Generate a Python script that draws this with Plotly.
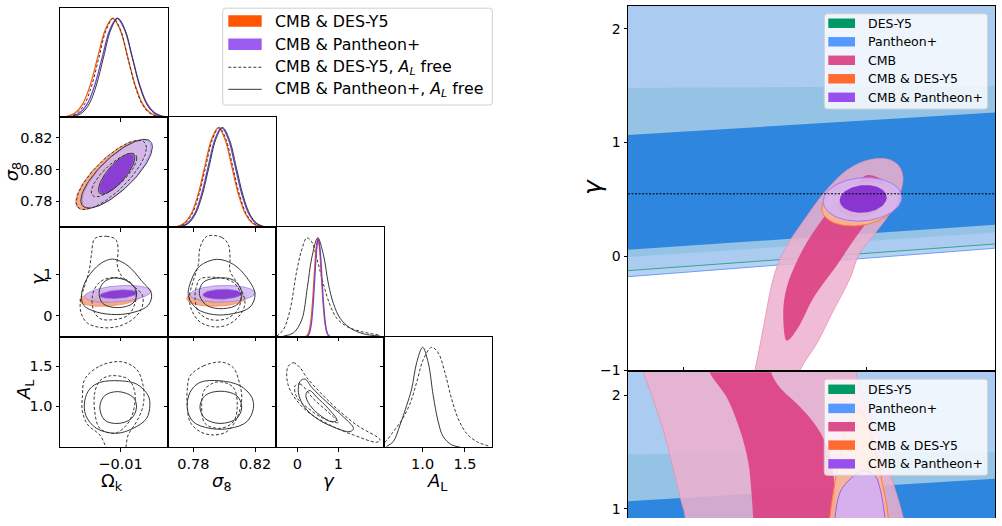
import numpy as np
import plotly.graph_objects as go

W, H = 1002, 526
FONT = "DejaVu Sans"

# ---------------- axis ranges & ticks ----------------
OMK_RANGE = [-0.0193, -0.0027]
S8_XRANGE = [0.7636, 0.8336]
S8_YRANGE = [0.7634, 0.8330]
GAM_XRANGE = [-0.52, 2.11]
GAM_YRANGE = [-0.50, 2.12]
AL_XRANGE = [0.543, 1.82]
AL_YRANGE = [0.496, 1.862]
PDF_RANGE = [0, 1.105]

OMK_TICKS, OMK_LABELS = [-0.01], ["\u22120.01"]
S8_XTICKS, S8_XLABELS = [0.78, 0.82], ["0.78", "0.82"]
S8_YTICKS, S8_YLABELS = [0.78, 0.80, 0.82], ["0.78", "0.80", "0.82"]
GAM_TICKS, GAM_LABELS = [0, 1], ["0", "1"]
AL_TICKS, AL_LABELS = [1.0, 1.5], ["1.0", "1.5"]

R_XRANGE = [0, 1]
R_TOP_YRANGE = [-1.0, 2.2]
R_BOT_YRANGE = [0.92, 2.2]
R_YTICKS_TOP, R_YLABELS_TOP = [-1, 0, 1, 2], ["\u22121", "0", "1", "2"]
R_YTICKS_BOT, R_YLABELS_BOT = [1, 2], ["1", "2"]
R_XTICKS = [0.15, 0.65]
GAMMA_GR = 0.55

# ---------------- 1D marginals ----------------
PDF_SYM = [0.002, 0.011, 0.044, 0.135, 0.325, 0.607, 0.882, 1.0, 0.882, 0.607, 0.325, 0.135, 0.044, 0.011, 0.002]
OMK_PDF_X_ORANGE = [-0.01925, -0.0181, -0.01695, -0.0158, -0.01465, -0.0135, -0.01235, -0.0112, -0.01005, -0.0089, -0.00775, -0.0066, -0.00545, -0.0043, -0.00315]
OMK_PDF_X_PURPLE = [-0.01855, -0.0174, -0.01625, -0.0151, -0.01395, -0.0128, -0.01165, -0.0105, -0.00935, -0.0082, -0.00705, -0.0059, -0.00475, -0.0036, -0.00245]
OMK_PDF_X_DASHED = [-0.0188, -0.0177, -0.0166, -0.0155, -0.0144, -0.0133, -0.0122, -0.0111, -0.0100, -0.0089, -0.0078, -0.0067, -0.0056, -0.0045, -0.0034]
OMK_PDF_X_SOLID = [-0.0181, -0.0170, -0.0159, -0.0148, -0.0137, -0.0126, -0.0115, -0.0104, -0.0093, -0.0082, -0.0071, -0.0060, -0.0049, -0.0038, -0.0027]

S8_PDF_X_ORANGE = [0.7654, 0.7698, 0.7742, 0.7786, 0.7830, 0.7874, 0.7918, 0.7962, 0.8006, 0.8050, 0.8094, 0.8138, 0.8182, 0.8226, 0.8270]
S8_PDF_X_DASHED = [0.7660, 0.7704, 0.7748, 0.7792, 0.7836, 0.7880, 0.7924, 0.7968, 0.8012, 0.8056, 0.8100, 0.8144, 0.8188, 0.8232, 0.8276]
S8_PDF_X_PURPLE = [0.7676, 0.7720, 0.7764, 0.7808, 0.7852, 0.7896, 0.7940, 0.7984, 0.8028, 0.8072, 0.8116, 0.8160, 0.8204, 0.8248, 0.8292]
S8_PDF_X_SOLID = [0.7682, 0.7726, 0.7770, 0.7814, 0.7858, 0.7902, 0.7946, 0.7990, 0.8034, 0.8078, 0.8122, 0.8166, 0.8210, 0.8254, 0.8298]

GAM_PDF_X_ORANGE = [0.189, 0.233, 0.277, 0.321, 0.365, 0.409, 0.453, 0.497, 0.541, 0.585, 0.629, 0.673, 0.717, 0.761, 0.805]
GAM_PDF_X_PURPLE = [0.2145, 0.257, 0.2995, 0.342, 0.3845, 0.427, 0.4695, 0.512, 0.5545, 0.597, 0.6395, 0.682, 0.7245, 0.767, 0.8095]
GAM_PDF_X_SOLID = [-0.34, -0.097, 0.106, 0.244, 0.35, 0.497, 0.635, 0.757, 0.879, 1.041, 1.285, 1.61, 2.017]
GAM_PDF_Y_SOLID = [0.007, 0.039, 0.171, 0.5, 0.796, 1.0, 0.829, 0.533, 0.336, 0.1875, 0.089, 0.03, 0.007]
GAM_PDF_X_DASHED = [-0.503, -0.34, -0.179, -0.016, 0.106, 0.228, 0.35, 0.472, 0.635, 0.797, 0.96, 1.204, 1.529, 2.017]
GAM_PDF_Y_DASHED = [0.007, 0.072, 0.27, 0.664, 0.878, 1.0, 0.96, 0.796, 0.533, 0.319, 0.1875, 0.105, 0.056, 0.016]

AL_PDF_X_SOLID = [0.575, 0.653, 0.732, 0.811, 0.87, 0.929, 1.0, 1.066, 1.125, 1.184, 1.243, 1.342, 1.44]
AL_PDF_Y_SOLID = [0.007, 0.056, 0.22, 0.418, 0.582, 0.845, 1.0, 0.845, 0.516, 0.253, 0.105, 0.023, 0.0]
AL_PDF_X_DASHED = [0.50, 0.555, 0.653, 0.752, 0.85, 0.929, 1.008, 1.106, 1.184, 1.263, 1.342, 1.42, 1.519, 1.637, 1.795]
AL_PDF_Y_DASHED = [0.025, 0.049, 0.155, 0.27, 0.434, 0.648, 0.878, 1.0, 0.944, 0.747, 0.484, 0.286, 0.138, 0.056, 0.007]

# ---------------- 2D contours: ellipses [cx, cy, half-width x, half-width y, tilt] (95%, 68%) ----------------
OMK_S8_ORANGE = [[-0.0115, 0.7965, 0.0054, 0.0218, 0.78], [-0.0115, 0.7965, 0.0031, 0.0128, 0.78]]
OMK_S8_PURPLE = [[-0.0106, 0.7973, 0.0053, 0.0215, 0.78], [-0.0106, 0.7972, 0.0027, 0.0126, 0.78]]
OMK_S8_DASHED = [[-0.0114, 0.7966, 0.0054, 0.0219, 0.78], [-0.0110, 0.7965, 0.0035, 0.0137, 0.78]]
OMK_S8_SOLID = [[-0.0106, 0.7973, 0.0055, 0.0217, 0.78], [-0.0106, 0.7973, 0.0028, 0.0129, 0.78]]

OMK_GAM_ORANGE = [[-0.0115, 0.44, 0.0048, 0.21, 0.3], [-0.0115, 0.44, 0.0029, 0.11, 0.3]]
OMK_GAM_PURPLE = [[-0.0104, 0.53, 0.0051, 0.20, 0.3], [-0.0103, 0.52, 0.0029, 0.107, 0.3]]
S8_GAM_ORANGE = [[0.7952, 0.44, 0.0195, 0.21, 0.1], [0.7955, 0.44, 0.012, 0.11, 0.1]]
S8_GAM_PURPLE = [[0.7990, 0.53, 0.0210, 0.20, 0.1], [0.7987, 0.52, 0.0126, 0.12, 0.1]]

# ---------------- 2D contours: outlines (x, y) ----------------
OMK_GAM_DASHED_2S = [(-0.01395, 1.853), (-0.01215, 1.908), (-0.01072, 1.830), (-0.01037, 1.553), (-0.01052, 1.238), (-0.00985, 0.962), (-0.00806, 0.726), (-0.00662, 0.489), (-0.00677, 0.175), (-0.00831, -0.102), (-0.01062, -0.260), (-0.01318, -0.274), (-0.01514, -0.165), (-0.01611, 0.095), (-0.01611, 0.411), (-0.01549, 0.726), (-0.01483, 1.080), (-0.01446, 1.475)]
OMK_GAM_DASHED_1S = [(-0.01268, 0.861), (-0.01088, 0.922), (-0.00883, 0.844), (-0.00765, 0.608), (-0.00780, 0.293), (-0.00883, 0.017), (-0.01088, -0.085), (-0.01318, -0.062), (-0.01422, 0.175), (-0.01431, 0.489), (-0.01369, 0.726)]
OMK_GAM_SOLID_2S = [(-0.01088, 1.357), (-0.00883, 1.199), (-0.00677, 0.844), (-0.00523, 0.529), (-0.00575, 0.253), (-0.00780, 0.095), (-0.01062, 0.033), (-0.01369, 0.095), (-0.01565, 0.253), (-0.01600, 0.489), (-0.01534, 0.844), (-0.01369, 1.175), (-0.01215, 1.333)]
OMK_GAM_SOLID_1S = [(-0.01114, 0.907), (-0.00883, 0.828), (-0.00754, 0.568), (-0.00806, 0.309), (-0.01037, 0.199), (-0.01268, 0.293), (-0.01329, 0.568), (-0.01257, 0.806)]

S8_GAM_DASHED_2S = [(0.7887, 1.908), (0.7984, 1.884), (0.8027, 1.711), (0.8038, 1.396), (0.8038, 1.080), (0.8103, 0.686), (0.8135, 0.293), (0.8092, -0.024), (0.8017, -0.220), (0.7930, -0.260), (0.7843, -0.142), (0.7790, 0.135), (0.7774, 0.450), (0.7800, 0.844), (0.7833, 1.238), (0.7843, 1.632)]
S8_GAM_DASHED_1S = [(0.7843, 0.884), (0.7952, 0.922), (0.8059, 0.806), (0.8107, 0.529), (0.8092, 0.175), (0.8017, -0.062), (0.7908, -0.085), (0.7833, 0.095), (0.7811, 0.450), (0.7822, 0.726)]
S8_GAM_SOLID_2S = [(0.7952, 1.357), (0.8059, 1.238), (0.8146, 0.922), (0.8200, 0.529), (0.8168, 0.213), (0.8059, 0.056), (0.7930, 0.033), (0.7822, 0.175), (0.7768, 0.489), (0.7790, 0.884), (0.7843, 1.199)]
S8_GAM_SOLID_1S = [(0.7952, 0.907), (0.8059, 0.861), (0.8114, 0.568), (0.8092, 0.293), (0.7995, 0.175), (0.7887, 0.253), (0.7839, 0.529), (0.7865, 0.806)]

OMK_AL_DASHED_2S = [(-0.01549, 1.338), (-0.01318, 1.500), (-0.00985, 1.553), (-0.00754, 1.460), (-0.00652, 1.256), (-0.00652, 1.012), (-0.00754, 0.809), (-0.00883, 0.646), (-0.00949, 0.444), (-0.01165, 0.444), (-0.01318, 0.646), (-0.01498, 0.768), (-0.01585, 0.932), (-0.01585, 1.134)]
OMK_AL_DASHED_1S = [(-0.01165, 1.378), (-0.00883, 1.338), (-0.00780, 1.175), (-0.00806, 0.932), (-0.00908, 0.768), (-0.01088, 0.667), (-0.01318, 0.728), (-0.01395, 0.932), (-0.01395, 1.175), (-0.01318, 1.317)]
OMK_AL_SOLID_2S = [(-0.01318, 1.297), (-0.01011, 1.317), (-0.00754, 1.277), (-0.00575, 1.134), (-0.00549, 1.012), (-0.00600, 0.850), (-0.00806, 0.728), (-0.01062, 0.667), (-0.01369, 0.728), (-0.01534, 0.890), (-0.01549, 1.073), (-0.01472, 1.216)]
OMK_AL_SOLID_1S = [(-0.01037, 1.183), (-0.00806, 1.114), (-0.00754, 0.992), (-0.00831, 0.850), (-0.01037, 0.789), (-0.01242, 0.829), (-0.01318, 0.992), (-0.01242, 1.134)]

S8_AL_DASHED_2S = [(0.7779, 1.378), (0.7865, 1.500), (0.7984, 1.549), (0.8059, 1.480), (0.8098, 1.297), (0.8114, 1.094), (0.8081, 0.850), (0.8017, 0.688), (0.7930, 0.646), (0.7843, 0.688), (0.7779, 0.809), (0.7761, 1.012), (0.7761, 1.216)]
S8_AL_DASHED_1S = [(0.7962, 1.305), (0.8059, 1.236), (0.8085, 1.012), (0.8059, 0.809), (0.7973, 0.728), (0.7876, 0.789), (0.7854, 1.012), (0.7876, 1.216)]
S8_AL_SOLID_2S = [(0.7843, 1.297), (0.7973, 1.317), (0.8103, 1.256), (0.8179, 1.114), (0.8189, 0.972), (0.8146, 0.809), (0.8038, 0.728), (0.7908, 0.728), (0.7800, 0.809), (0.7761, 0.972), (0.7779, 1.175)]
S8_AL_SOLID_1S = [(0.7973, 1.188), (0.8081, 1.134), (0.8114, 0.992), (0.8081, 0.850), (0.7973, 0.789), (0.7876, 0.850), (0.7843, 0.992), (0.7876, 1.134)]

GAM_AL_DASHED_2S = [(-0.219, 1.500), (-0.097, 1.541), (0.066, 1.480), (0.228, 1.358), (0.553, 1.175), (0.960, 0.972), (1.448, 0.768), (2.017, 0.585), (1.936, 0.557), (1.366, 0.646), (0.879, 0.748), (0.310, 0.911), (-0.016, 1.073), (-0.219, 1.256), (-0.259, 1.419)]
GAM_AL_DASHED_1S = [(-0.057, 1.256), (0.066, 1.277), (0.391, 1.094), (0.879, 0.870), (1.000, 0.800), (0.635, 0.850), (0.228, 0.992), (-0.016, 1.114)]
GAM_AL_SOLID_2S = [(0.066, 1.310), (0.188, 1.338), (0.350, 1.236), (0.716, 1.053), (1.122, 0.870), (1.366, 0.728), (1.285, 0.688), (0.960, 0.728), (0.472, 0.850), (0.147, 1.012), (0.025, 1.175)]
GAM_AL_SOLID_1S = [(0.228, 1.175), (0.310, 1.195), (0.472, 1.114), (0.757, 0.972), (0.960, 0.829), (0.838, 0.809), (0.553, 0.890), (0.310, 1.012), (0.212, 1.114)]

# ---------------- right-hand panels ----------------
BAND_X = [0, 1]
SN_OUTER_LO = [-0.178, 0.072]
SN_OUTER2_LO = [-0.125, 0.109]
SN_MID_LO, SN_MID_HI = [-0.006, 0.21], [1.48, 1.497]
SN_INNER_LO, SN_INNER_HI = [0.058, 0.278], [1.066, 1.265]
SN_TOP = [3.0, 3.0]

RT_CMB_2S = [(0.330, -1.2), (0.346, -0.997), (0.369, -0.623), (0.396, -0.192), (0.423, 0.037), (0.487, 0.353), (0.541, 0.584), (0.596, 0.756), (0.650, 0.842), (0.705, 0.856), (0.737, 0.799), (0.749, 0.698), (0.741, 0.554), (0.714, 0.382), (0.668, 0.181), (0.630, 0.02), (0.605, -0.192), (0.559, -0.480), (0.514, -0.767), (0.469, -0.997), (0.450, -1.2)]
RT_CMB_1S = [(0.432, -0.739), (0.423, -0.480), (0.432, -0.279), (0.455, -0.078), (0.487, 0.123), (0.523, 0.296), (0.550, 0.411), (0.590, 0.560), (0.632, 0.670), (0.650, 0.713), (0.678, 0.698), (0.696, 0.655), (0.700, 0.550), (0.680, 0.400), (0.650, 0.296), (0.605, 0.095), (0.569, -0.078), (0.505, -0.365), (0.469, -0.595), (0.441, -0.724)]
RT_ORANGE = [[0.632, 0.461, 0.104, 0.194, 0.2], [0.636, 0.470, 0.066, 0.125, 0.2]]
RT_PURPLE = [[0.639, 0.501, 0.107, 0.191, 0.1], [0.641, 0.505, 0.064, 0.122, 0.1]]

RB_CMB_2S = [(0.030, 2.30), (0.042, 2.196), (0.096, 1.692), (0.151, 1.003), (0.175, 0.80), (0.760, 0.80), (0.750, 0.922), (0.741, 1.032), (0.714, 1.319), (0.687, 1.606), (0.650, 1.894), (0.623, 2.180), (0.615, 2.30)]
RB_CMB_1S = [(0.215, 2.30), (0.223, 2.196), (0.269, 1.980), (0.305, 1.692), (0.328, 1.405), (0.337, 1.118), (0.341, 0.922), (0.343, 0.80), (0.572, 0.80), (0.569, 0.922), (0.559, 1.319), (0.546, 1.520), (0.514, 1.721), (0.469, 1.894), (0.414, 2.066), (0.392, 2.181), (0.385, 2.30)]
RB_ORANGE = [(0.550, 0.80), (0.550, 0.922), (0.564, 1.233), (0.578, 1.463), (0.600, 1.750), (0.630, 1.868), (0.650, 1.778), (0.666, 1.606), (0.687, 1.319), (0.705, 1.032), (0.709, 0.922), (0.710, 0.80)]
RB_PURPLE = [(0.562, 0.80), (0.564, 0.922), (0.578, 1.147), (0.605, 1.261), (0.641, 1.334), (0.673, 1.290), (0.687, 1.175), (0.700, 0.922), (0.702, 0.80)]

# ---------------- legends ----------------
LEFT_LEGEND_LABELS = ["CMB & DES-Y5", "CMB & Pantheon+", "CMB & DES-Y5, <i>A<sub>L</sub></i> free", "CMB & Pantheon+, <i>A<sub>L</sub></i> free"]
RIGHT_LEGEND_LABELS = ["DES-Y5", "Pantheon+", "CMB", "CMB & DES-Y5", "CMB & Pantheon+"]
RIGHT_LEGEND_COLORS = ["#009966", "#5599ff", "#dd4f8c", "#ff6a30", "#9750ee"]

# ---------------- colours ----------------
ORANGE_LINE, PURPLE_LINE, BLACK_LINE = "#ff5a0a", "#6e44d8", "#383838"
ORANGE_2S, ORANGE_1S, ORANGE_EDGE = "#f7ab88", "#ff6a22", "#f58a5c"
PURPLE_2S, PURPLE_1S, PURPLE_EDGE = "rgba(208,184,242,0.88)", "#8b3ed4", "#a27fe6"
CMB_2S, CMB_1S, CMB_EDGE = "rgba(238,176,205,0.86)", "rgba(220,60,128,0.88)", "#e690b8"
DASH = "3px,2px"

# =====================================================================
fig = go.Figure()
layout = dict(width=W, height=H, margin=dict(l=0, r=0, t=0, b=0),
              paper_bgcolor="white", plot_bgcolor="white", showlegend=False)

COLS = [60, 168, 276, 384, 492]
ROWS = [8, 119, 231, 342, 454]


def xa(i):
    return "x" if i == 1 else f"x{i}"


def ya(i):
    return "y" if i == 1 else f"y{i}"


AXBASE = dict(showgrid=False, zeroline=False, showline=True, linecolor="black", linewidth=1,
              mirror=True, ticks="outside", ticklen=3.5, tickwidth=1, tickcolor="black",
              tickfont=dict(family=FONT, size=14.5, color="black"), fixedrange=True)


def axis(domain, rng, anchor, tickvals=None, ticktext=None, show=False, **kw):
    d = dict(AXBASE)
    d.update(domain=domain, range=rng, anchor=anchor)
    if tickvals is None:
        d.update(ticks="", showticklabels=False)
    else:
        d.update(tickmode="array", tickvals=tickvals, showticklabels=show)
        if show and ticktext:
            d.update(ticktext=ticktext)
    d.update(kw)
    return d


def set_panel(i, dx, dy, xr, yr, xt=None, xtt=None, xshow=False, yt=None, ytt=None, yshow=False, xkw=None, ykw=None):
    layout["xaxis" if i == 1 else f"xaxis{i}"] = axis(dx, xr, ya(i), xt, xtt, xshow, **(xkw or {}))
    layout["yaxis" if i == 1 else f"yaxis{i}"] = axis(dy, yr, xa(i), yt, ytt, yshow, **(ykw or {}))


def xdom(c):
    return [COLS[c] / W, COLS[c + 1] / W]


def ydom(r):
    return [1 - ROWS[r + 1] / H, 1 - ROWS[r] / H]


def pdf_ticks(vals, yr):
    return [PDF_RANGE[1] * (v - yr[0]) / (yr[1] - yr[0]) for v in vals]


# triangle panels
set_panel(1, xdom(0), ydom(0), OMK_RANGE, PDF_RANGE, OMK_TICKS)
set_panel(2, xdom(0), ydom(1), OMK_RANGE, S8_YRANGE, OMK_TICKS, None, False, S8_YTICKS, S8_YLABELS, True)
set_panel(3, xdom(1), ydom(1), S8_XRANGE, PDF_RANGE, S8_XTICKS, None, False, pdf_ticks(S8_YTICKS, S8_YRANGE))
set_panel(4, xdom(0), ydom(2), OMK_RANGE, GAM_YRANGE, OMK_TICKS, None, False, GAM_TICKS, GAM_LABELS, True)
set_panel(5, xdom(1), ydom(2), S8_XRANGE, GAM_YRANGE, S8_XTICKS, None, False, GAM_TICKS)
set_panel(6, xdom(2), ydom(2), GAM_XRANGE, PDF_RANGE, GAM_TICKS, None, False, pdf_ticks(GAM_TICKS, GAM_YRANGE))
set_panel(7, xdom(0), ydom(3), OMK_RANGE, AL_YRANGE, OMK_TICKS, OMK_LABELS, True, AL_TICKS, AL_LABELS, True)
set_panel(8, xdom(1), ydom(3), S8_XRANGE, AL_YRANGE, S8_XTICKS, S8_XLABELS, True, AL_TICKS)
set_panel(9, xdom(2), ydom(3), GAM_XRANGE, AL_YRANGE, GAM_TICKS, GAM_LABELS, True, AL_TICKS)
set_panel(10, xdom(3), ydom(3), AL_XRANGE, PDF_RANGE, AL_TICKS, AL_LABELS, True, pdf_ticks(AL_TICKS, AL_YRANGE))

# right panels
RFONT = dict(family=FONT, size=14, color="black")
set_panel(11, [628 / W, 995 / W], [1 - 376 / H, 1 - 6 / H], R_XRANGE, R_TOP_YRANGE,
          R_XTICKS, None, False, R_YTICKS_TOP, R_YLABELS_TOP, True,
          xkw=dict(ticks="inside", ticklen=3), ykw=dict(tickfont=RFONT))
set_panel(12, [628 / W, 995 / W], [0, 1 - 378 / H], R_XRANGE, R_BOT_YRANGE,
          None, None, False, R_YTICKS_BOT, R_YLABELS_BOT, True,
          xkw=dict(side="top", mirror=False), ykw=dict(tickfont=RFONT))


# ---------------- trace helpers ----------------
def ellipse(p, n=100):
    cx, cy, hx, hy, r = p
    t = np.linspace(0, 2 * np.pi, n)
    return cx + hx * np.cos(t), cy + hy * (r * np.cos(t) + np.sqrt(1 - r * r) * np.sin(t))


def outline(pts):
    xs = [p[0] for p in pts] + [pts[0][0]]
    ys = [p[1] for p in pts] + [pts[0][1]]
    return xs, ys


def add_fill(i, xy, fill, edge=None, ew=0.8, spline=False):
    x, y = xy
    fig.add_trace(go.Scatter(
        x=list(x), y=list(y), mode="lines", fill="toself", fillcolor=fill,
        line=dict(color=edge if edge else "rgba(0,0,0,0)", width=ew if edge else 0,
                  shape="spline" if spline else "linear", smoothing=1.0),
        xaxis=xa(i), yaxis=ya(i), hoverinfo="skip"))


def add_line(i, xy, color, width=1.0, dash=None, spline=False):
    x, y = xy
    fig.add_trace(go.Scatter(
        x=list(x), y=list(y), mode="lines",
        line=dict(color=color, width=width, dash=dash, shape="spline" if spline else "linear", smoothing=1.0),
        xaxis=xa(i), yaxis=ya(i), hoverinfo="skip"))


def filled_pair(i, orange, purple):
    add_fill(i, ellipse(orange[0]), ORANGE_2S, ORANGE_EDGE, 0.8)
    add_fill(i, ellipse(orange[1]), ORANGE_1S, ORANGE_EDGE, 0.6)
    add_fill(i, ellipse(purple[0]), PURPLE_2S, PURPLE_EDGE, 0.8)
    add_fill(i, ellipse(purple[1]), PURPLE_1S, PURPLE_EDGE, 0.6)


# ---------------- 1D panels ----------------
add_line(1, (OMK_PDF_X_ORANGE, PDF_SYM), ORANGE_LINE, 1.3, spline=True)
add_line(1, (OMK_PDF_X_PURPLE, PDF_SYM), PURPLE_LINE, 1.3, spline=True)
add_line(1, (OMK_PDF_X_DASHED, PDF_SYM), BLACK_LINE, 1.0, DASH, spline=True)
add_line(1, (OMK_PDF_X_SOLID, PDF_SYM), BLACK_LINE, 1.0, spline=True)

add_line(3, (S8_PDF_X_ORANGE, PDF_SYM), ORANGE_LINE, 1.3, spline=True)
add_line(3, (S8_PDF_X_PURPLE, PDF_SYM), PURPLE_LINE, 1.3, spline=True)
add_line(3, (S8_PDF_X_DASHED, PDF_SYM), BLACK_LINE, 1.0, DASH, spline=True)
add_line(3, (S8_PDF_X_SOLID, PDF_SYM), BLACK_LINE, 1.0, spline=True)

add_line(6, (GAM_PDF_X_DASHED, GAM_PDF_Y_DASHED), BLACK_LINE, 1.0, DASH, spline=True)
add_line(6, (GAM_PDF_X_SOLID, GAM_PDF_Y_SOLID), BLACK_LINE, 1.0, spline=True)
add_line(6, (GAM_PDF_X_ORANGE, PDF_SYM), ORANGE_LINE, 1.3, spline=True)
add_line(6, (GAM_PDF_X_PURPLE, PDF_SYM), PURPLE_LINE, 1.3, spline=True)

add_line(10, (AL_PDF_X_DASHED, AL_PDF_Y_DASHED), BLACK_LINE, 1.0, DASH, spline=True)
add_line(10, (AL_PDF_X_SOLID, AL_PDF_Y_SOLID), BLACK_LINE, 1.0, spline=True)

# ---------------- 2D panels ----------------
filled_pair(2, OMK_S8_ORANGE, OMK_S8_PURPLE)
for p in OMK_S8_DASHED:
    add_line(2, ellipse(p), BLACK_LINE, 1.0, DASH)
for p in OMK_S8_SOLID:
    add_line(2, ellipse(p), BLACK_LINE, 1.0)

for i, orange, purple, d2, d1, s2, s1 in [
        (4, OMK_GAM_ORANGE, OMK_GAM_PURPLE, OMK_GAM_DASHED_2S, OMK_GAM_DASHED_1S, OMK_GAM_SOLID_2S, OMK_GAM_SOLID_1S),
        (5, S8_GAM_ORANGE, S8_GAM_PURPLE, S8_GAM_DASHED_2S, S8_GAM_DASHED_1S, S8_GAM_SOLID_2S, S8_GAM_SOLID_1S)]:
    filled_pair(i, orange, purple)
    add_line(i, outline(d2), BLACK_LINE, 1.0, DASH, spline=True)
    add_line(i, outline(d1), BLACK_LINE, 1.0, DASH, spline=True)
    add_line(i, outline(s2), BLACK_LINE, 1.0, spline=True)
    add_line(i, outline(s1), BLACK_LINE, 1.0, spline=True)

for i, d2, d1, s2, s1 in [
        (7, OMK_AL_DASHED_2S, OMK_AL_DASHED_1S, OMK_AL_SOLID_2S, OMK_AL_SOLID_1S),
        (8, S8_AL_DASHED_2S, S8_AL_DASHED_1S, S8_AL_SOLID_2S, S8_AL_SOLID_1S),
        (9, GAM_AL_DASHED_2S, GAM_AL_DASHED_1S, GAM_AL_SOLID_2S, GAM_AL_SOLID_1S)]:
    add_line(i, outline(d2), BLACK_LINE, 1.0, DASH, spline=True)
    add_line(i, outline(d1), BLACK_LINE, 1.0, DASH, spline=True)
    add_line(i, outline(s2), BLACK_LINE, 1.0, spline=True)
    add_line(i, outline(s1), BLACK_LINE, 1.0, spline=True)


# ---------------- right panels ----------------
def band(i, lo, hi, color):
    x = [BAND_X[0], BAND_X[1], BAND_X[1], BAND_X[0], BAND_X[0]]
    y = [lo[0], lo[1], hi[1], hi[0], lo[0]]
    add_fill(i, (x, y), color)


for i in (11, 12):
    band(i, SN_OUTER_LO, SN_TOP, "#b5d2f6")
    band(i, SN_OUTER2_LO, SN_TOP, "#abcbf0")
    band(i, SN_MID_LO, SN_MID_HI, "#95c3e5")
    band(i, SN_INNER_LO, SN_INNER_HI, "#2f86df")
    add_line(i, (BAND_X, SN_OUTER_LO), "#6d9ff2", 1.0)
    add_line(i, (BAND_X, SN_OUTER2_LO), "#35a58c", 1.0)

add_fill(11, outline(RT_CMB_2S), CMB_2S, CMB_EDGE, 0.8, spline=True)
add_fill(11, outline(RT_CMB_1S), CMB_1S, None, spline=True)
add_fill(11, ellipse(RT_ORANGE[0]), "rgba(248,182,146,0.95)", "#ff7a3c", 1.0)
add_fill(11, ellipse(RT_ORANGE[1]), "rgba(255,120,60,0.9)", None)
add_fill(11, ellipse(RT_PURPLE[0]), "rgba(212,180,242,0.9)", "#a47ae8", 1.0)
add_fill(11, ellipse(RT_PURPLE[1]), "#8a35d0", None)
add_line(11, (BAND_X, [GAMMA_GR, GAMMA_GR]), "black", 1.0, "2px,1.5px")

add_fill(12, outline(RB_CMB_2S), CMB_2S, CMB_EDGE, 0.8, spline=True)
add_fill(12, outline(RB_CMB_1S), CMB_1S, None, spline=True)
add_fill(12, outline(RB_ORANGE), "rgba(248,180,145,0.9)", "#ff7a3c", 1.0, spline=True)
add_fill(12, outline(RB_PURPLE), "rgba(212,176,240,0.95)", "#9a62e6", 1.0, spline=True)


# ---------------- annotations, legends ----------------
def P(px, py):
    return px / W, 1 - py / H


annotations = []
shapes = []


def text(s, px, py, size, angle=0, xanchor="center"):
    x, y = P(px, py)
    annotations.append(dict(text=s, x=x, y=y, xref="paper", yref="paper", showarrow=False,
                            xanchor=xanchor, yanchor="middle", textangle=angle,
                            font=dict(family=FONT, size=size, color="black")))


text("<i>σ</i><sub>8</sub>", 13, 175, 18, -90)
text("<i>γ</i>", 38, 283, 18, -90)
text("<i>A</i><sub>L</sub>", 25, 396, 18, -90)
text("Ω<sub>k</sub>", 112, 489, 18)
text("<i>σ</i><sub>8</sub>", 221, 489, 18)
text("<i>γ</i>", 329, 488, 18)
text("<i>A</i><sub>L</sub>", 437, 489, 18)
text("<i>γ</i>", 592, 190, 25, -90)


def rrect(x0, y0, x1, y1, r, fill, line):
    def p(a, b):
        u, v = P(a, b)
        return f"{u:.5f},{v:.5f}"
    path = (f"M {p(x0 + r, y0)} L {p(x1 - r, y0)} Q {p(x1, y0)} {p(x1, y0 + r)} "
            f"L {p(x1, y1 - r)} Q {p(x1, y1)} {p(x1 - r, y1)} L {p(x0 + r, y1)} "
            f"Q {p(x0, y1)} {p(x0, y1 - r)} L {p(x0, y0 + r)} Q {p(x0, y0)} {p(x0 + r, y0)} Z")
    shapes.append(dict(type="path", path=path, xref="paper", yref="paper", fillcolor=fill,
                       line=dict(color=line, width=1), layer="above"))


def rect(x0, y0, x1, y1, color):
    a, b = P(x0, y0)
    c, d = P(x1, y1)
    shapes.append(dict(type="rect", x0=a, x1=c, y0=d, y1=b, xref="paper", yref="paper",
                       fillcolor=color, line=dict(width=0), layer="above"))


def hline(x0, x1, yy, dash=None):
    a, b = P(x0, yy)
    c, _ = P(x1, yy)
    shapes.append(dict(type="line", x0=a, x1=c, y0=b, y1=b, xref="paper", yref="paper",
                       line=dict(color=BLACK_LINE, width=1, dash=dash), layer="above"))


# left legend
rrect(222.7, 8.3, 492.3, 106.7, 3, "rgba(255,255,255,0.9)", "#cfcfcf")
LEFT_Y = [21.4, 45.0, 68.3, 90.7]
rect(228.3, LEFT_Y[0] - 5.8, 261.7, LEFT_Y[0] + 5.8, "#ff5500")
rect(228.3, LEFT_Y[1] - 5.8, 261.7, LEFT_Y[1] + 5.8, "#9b5cf0")
hline(228.3, 261.7, LEFT_Y[2], DASH)
hline(228.3, 261.7, LEFT_Y[3])
for lab, yy in zip(LEFT_LEGEND_LABELS, LEFT_Y):
    text(lab, 273, yy, 15.8, xanchor="left")

# right legends
for (bx0, by0, bx1, by1), ys in [((824.3, 14.0, 987.7, 110.7), [23.6, 42.4, 61.2, 80.0, 98.8]),
                                  ((824.3, 385.0, 987.7, 482.7), [395.3, 414.7, 433.3, 452.0, 471.0])]:
    rrect(bx0, by0, bx1, by1, 3, "rgba(255,255,255,0.8)", "#cfcfcf")
    for lab, col, yy in zip(RIGHT_LEGEND_LABELS, RIGHT_LEGEND_COLORS, ys):
        rect(828.3, yy - 4.8, 855.0, yy + 4.8, col)
        text(lab, 865.5, yy, 12.5, xanchor="left")

layout["annotations"] = annotations
layout["shapes"] = shapes
fig.update_layout(**layout)
fig.write_html("out.html")
